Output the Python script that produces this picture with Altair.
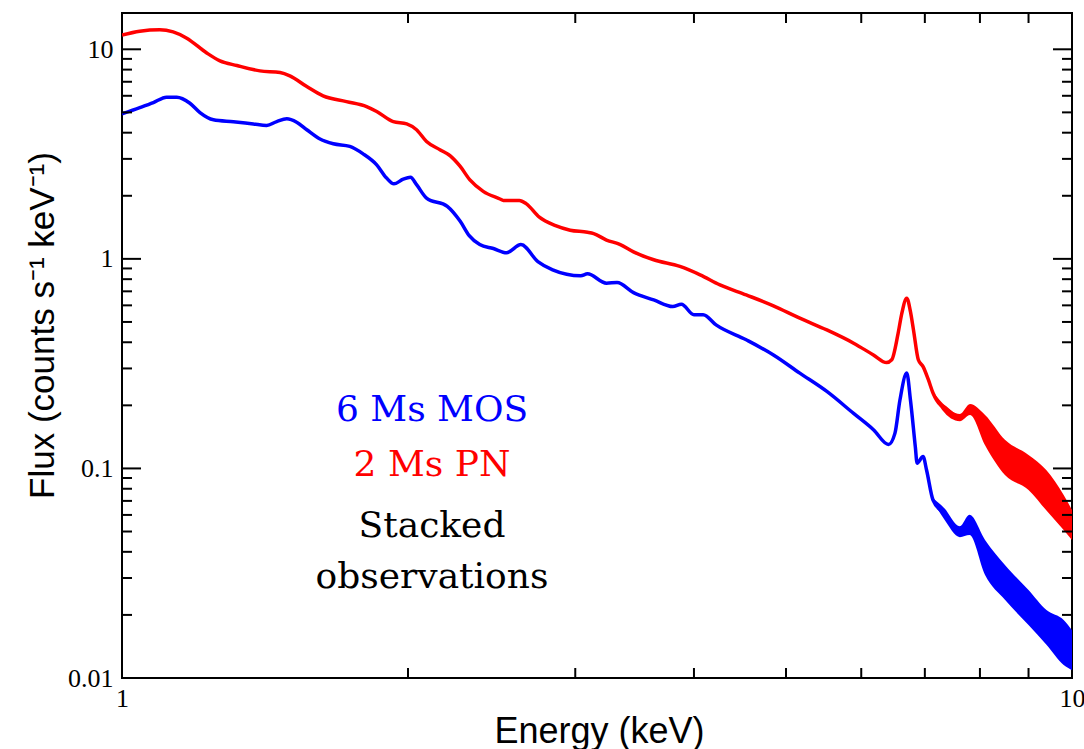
import altair as alt
import pandas as pd

# ---- data ----
pn_energy = [1.00, 1.044, 1.096, 1.132, 1.170, 1.228, 1.268, 1.321, 1.397, 1.467, 1.502, 1.565,
             1.628, 1.723, 1.809, 1.854, 1.930, 1.994, 2.042, 2.092, 2.163, 2.216, 2.27, 2.324,
             2.40, 2.50, 2.52, 2.62, 2.665, 2.75, 2.86, 2.963, 3.09, 3.137, 3.236, 3.346, 3.455,
             3.628, 3.866, 4.06, 4.26, 4.54, 4.85, 5.17, 5.52, 5.89, 6.18, 6.38, 6.46, 6.56, 6.62,
             6.70, 6.76, 6.81, 6.89, 6.97, 7.06, 7.14, 7.27, 7.33, 7.62, 7.81, 7.93, 8.01, 8.26,
             8.62, 9.03, 9.41, 9.72, 9.95, 10.0]
pn_flux = [11.7, 12.2, 12.4, 12.1, 11.3, 9.6, 8.81, 8.37, 7.89, 7.75, 7.47, 6.64,
           6.0, 5.63, 5.33, 5.05, 4.52, 4.41, 4.13, 3.63, 3.31, 3.10, 2.76, 2.38,
           2.10, 1.93, 1.90, 1.90, 1.83, 1.58, 1.44, 1.37, 1.34, 1.32, 1.23, 1.17, 1.08,
           0.99, 0.92, 0.839, 0.751, 0.673, 0.597, 0.521, 0.458, 0.396, 0.348, 0.320, 0.33, 0.44, 0.55,
           0.649, 0.56, 0.458, 0.330, 0.306, 0.265, 0.229, 0.201, 0.197, 0.174, 0.190, 0.177, 0.164, 0.134,
           0.12, 0.097, 0.081, 0.067, 0.053, 0.052]

mos_energy = [1.00, 1.044, 1.079, 1.114, 1.142, 1.179, 1.208, 1.248, 1.310, 1.375, 1.420, 1.455,
              1.491, 1.527, 1.565, 1.616, 1.669, 1.737, 1.794, 1.854, 1.899, 1.933, 1.977, 2.012,
              2.042, 2.092, 2.20, 2.27, 2.32, 2.38, 2.46, 2.54, 2.63, 2.74, 2.84, 3.04, 3.09,
              3.236, 3.32, 3.455, 3.628, 3.80, 3.88, 4.0, 4.09, 4.22, 4.54, 4.85, 5.17, 5.52,
              5.89, 6.18, 6.41, 6.51, 6.59, 6.70, 6.76, 6.84, 6.87, 6.97, 7.03, 7.14, 7.33,
              7.62, 7.77, 7.93, 8.06, 8.26, 8.55, 8.82, 9.10, 9.41, 9.72, 9.95, 10.0]
mos_flux = [4.92, 5.27, 5.57, 5.91, 5.91, 5.53, 4.99, 4.61, 4.51, 4.40, 4.33, 4.52,
            4.66, 4.49, 4.13, 3.73, 3.54, 3.44, 3.17, 2.81, 2.43, 2.28, 2.40, 2.45,
            2.26, 1.95, 1.78, 1.51, 1.29, 1.17, 1.12, 1.07, 1.17, 0.97, 0.886, 0.83, 0.848,
            0.766, 0.771, 0.690, 0.637, 0.592, 0.608, 0.541, 0.541, 0.484, 0.411, 0.348, 0.285, 0.233,
            0.183, 0.153, 0.130, 0.147, 0.212, 0.285, 0.212, 0.127, 0.106, 0.114, 0.098, 0.0707, 0.0611,
            0.0499, 0.0547, 0.0491, 0.0379, 0.0353, 0.0283, 0.0244, 0.0203, 0.0182, 0.0152, 0.0136, 0.013]

# scatter envelope of the noisy high-energy part
pn_band_energy = [7.14, 7.3, 7.62, 7.81, 8.1, 8.5, 9.0, 9.4, 9.8, 10.0]
pn_band_low = [0.226, 0.190, 0.168, 0.180, 0.129, 0.093, 0.079, 0.063, 0.0508, 0.0456]
pn_band_high = [0.232, 0.206, 0.182, 0.203, 0.180, 0.137, 0.116, 0.098, 0.0747, 0.0634]
mos_band_energy = [7.14, 7.33, 7.62, 7.8, 8.1, 8.5, 9.0, 9.4, 9.8, 10.0]
mos_band_low = [0.0695, 0.0575, 0.0470, 0.0481, 0.031, 0.0236, 0.0179, 0.0144, 0.01153, 0.0109]
mos_band_high = [0.0720, 0.0650, 0.0530, 0.0601, 0.0456, 0.0346, 0.0263, 0.0211, 0.0189, 0.0169]

x_labels = [1, 10]
y_labels = [0.01, 0.1, 1, 10]
x_minor = [2, 3, 4, 5, 6, 7, 8, 9]
y_minor = [0.02, 0.03, 0.04, 0.05, 0.06, 0.07, 0.08, 0.09,
           0.2, 0.3, 0.4, 0.5, 0.6, 0.7, 0.8, 0.9,
           2, 3, 4, 5, 6, 7, 8, 9]

# ---- chart ----
W, H = 950, 665
xs = alt.Scale(type="log", domain=[1, 10], nice=False)
ys = alt.Scale(type="log", domain=[0.01, 14.9], nice=False)

pn = pd.DataFrame({"E": pn_energy, "F": pn_flux})
mos = pd.DataFrame({"E": mos_energy, "F": mos_flux})
pnb = pd.DataFrame({"E": pn_band_energy, "F": pn_band_low, "F2": pn_band_high})
mosb = pd.DataFrame({"E": mos_band_energy, "F": mos_band_low, "F2": mos_band_high})

x_axis = alt.Axis(values=x_labels, format="~g", labelFont="Liberation Serif", labelFontSize=26,
                  labelColor="black", labelPadding=7, ticks=False, domain=False, grid=False,
                  title="Energy (keV)", titleFont="Liberation Sans", titleFontSize=36,
                  titleFontWeight="normal", titleColor="black", titleX=477, titleY=64,
                  titleBaseline="alphabetic", labelFlush=False)
y_axis = alt.Axis(values=y_labels, format="~g", labelFont="Liberation Serif", labelFontSize=26,
                  labelColor="black", labelPadding=9, ticks=False, domain=False, grid=False,
                  title="Flux (counts s⁻¹ keV⁻¹)", titleFont="Liberation Sans", titleFontSize=35,
                  titleFontWeight="normal", titleColor="black", titleX=-69, titleY=312,
                  titleAlign="center", titleBaseline="alphabetic", titleAngle=270, labelFlush=False)

base_pn = alt.Chart(pn).mark_line(color="#ff0000", strokeWidth=3.5, clip=True, interpolate="monotone").encode(
    x=alt.X("E:Q", scale=xs, axis=x_axis),
    y=alt.Y("F:Q", scale=ys, axis=y_axis),
)
line_mos = alt.Chart(mos).mark_line(color="#0000ff", strokeWidth=3.5, clip=True, interpolate="monotone").encode(
    x=alt.X("E:Q", scale=xs), y=alt.Y("F:Q", scale=ys))
band_pn = alt.Chart(pnb).mark_area(color="#ff0000", clip=True, interpolate="monotone").encode(
    x=alt.X("E:Q", scale=xs), y=alt.Y("F:Q", scale=ys), y2="F2:Q")
band_mos = alt.Chart(mosb).mark_area(color="#0000ff", clip=True, interpolate="monotone").encode(
    x=alt.X("E:Q", scale=xs), y=alt.Y("F:Q", scale=ys), y2="F2:Q")

ymaj = pd.DataFrame({"F": y_labels})
ymin = pd.DataFrame({"F": y_minor})
xmin = pd.DataFrame({"E": x_minor})
tick_style = dict(color="black", strokeWidth=2)
ticks = [
    alt.Chart(ymaj).mark_rule(**tick_style).encode(y=alt.Y("F:Q", scale=ys), x=alt.value(0), x2=alt.value(19)),
    alt.Chart(ymaj).mark_rule(**tick_style).encode(y=alt.Y("F:Q", scale=ys), x=alt.value(W), x2=alt.value(W - 19)),
    alt.Chart(ymin).mark_rule(**tick_style).encode(y=alt.Y("F:Q", scale=ys), x=alt.value(0), x2=alt.value(10)),
    alt.Chart(ymin).mark_rule(**tick_style).encode(y=alt.Y("F:Q", scale=ys), x=alt.value(W), x2=alt.value(W - 10)),
    alt.Chart(xmin).mark_rule(**tick_style).encode(x=alt.X("E:Q", scale=xs), y=alt.value(0), y2=alt.value(10)),
    alt.Chart(xmin).mark_rule(**tick_style).encode(x=alt.X("E:Q", scale=xs), y=alt.value(H), y2=alt.value(H - 10)),
]

one = pd.DataFrame({"k": [0]})
def note(text, color, ypix):
    return alt.Chart(one).mark_text(text=text, color=color, font="DejaVu Serif", fontSize=36,
                                    align="center", baseline="alphabetic").encode(
        x=alt.value(310), y=alt.value(ypix))

notes = [note("6 Ms MOS", "#0000ff", 408), note("2 Ms PN", "#ff0000", 463),
         note("Stacked", "black", 524), note("observations", "black", 575)]

chart = alt.layer(base_pn, line_mos, band_pn, band_mos, *ticks, *notes).properties(
    width=W, height=H,
    autosize=alt.AutoSizeParams(type="none"),
    padding={"left": 122, "top": 13, "right": 12, "bottom": 71},
    background="white",
).configure_view(stroke="black", strokeWidth=2)

chart.save("out.html", embed_options={"renderer": "svg", "actions": False})
